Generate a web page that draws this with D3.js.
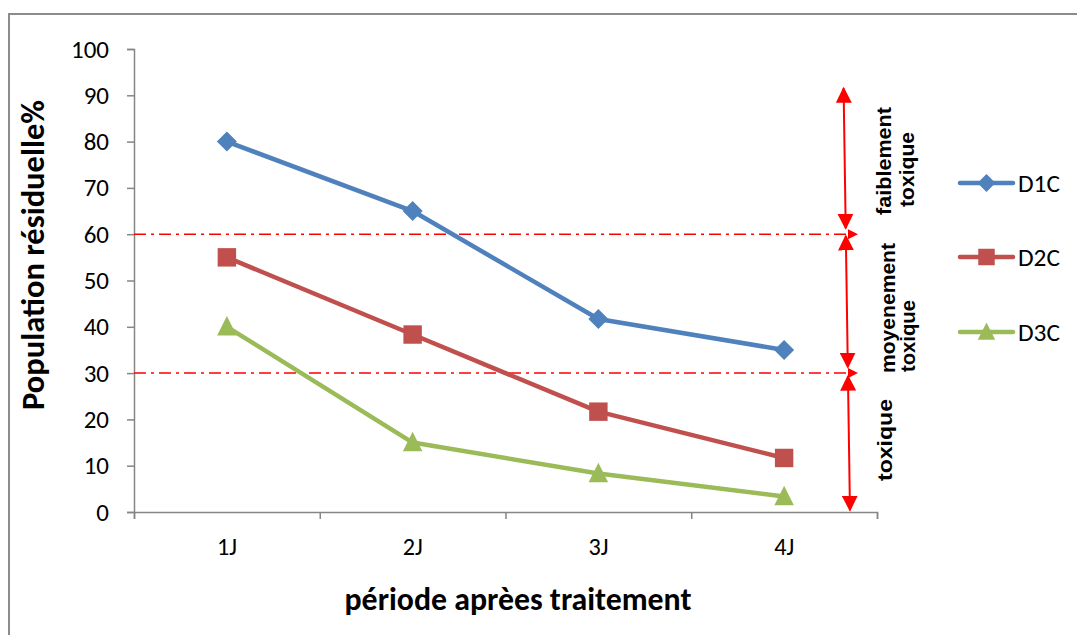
<!DOCTYPE html>
<html>
<head>
<meta charset="utf-8">
<script src="https://cdn.jsdelivr.net/npm/d3@7"></script>
<style>
  html, body { margin: 0; padding: 0; background: #fff; }
  svg { display: block; }
</style>
</head>
<body>
<svg id="chart" width="1077" height="635"></svg>
<script>
// Residual population after treatment, per dose
const periods = ["1J", "2J", "3J", "4J"];
const seriesNames = ["D1C", "D2C", "D3C"];
const d1c = [80, 65, 41.67, 35];
const d2c = [55, 38.33, 21.67, 11.67];
const d3c = [40, 15, 8.33, 3.33];
const yTicks = [0, 10, 20, 30, 40, 50, 60, 70, 80, 90, 100];
// toxicity thresholds and class bands (value ranges)
const thresholds = [60, 30];
const classBands = [[91.5, 61.3], [59.6, 31.3], [29.3, 0.4]];
const classLabels = [["faiblement", "toxique"], ["moyenement", "toxique"], ["toxique"]];

const colors = ["#4F81BD", "#C0504D", "#9BBB59"];
const uiFont = "Carlito, Calibri, Lato, 'Open Sans', sans-serif";
const boldFont = "Arial, 'Liberation Sans', Arimo, sans-serif";

// marker shapes
const diamond = { draw(ctx, size) { const r = Math.sqrt(size) / 2; ctx.moveTo(0, -r); ctx.lineTo(r, 0); ctx.lineTo(0, r); ctx.lineTo(-r, 0); ctx.closePath(); } };
const triangle = { draw(ctx, size) { const w = Math.sqrt(size); ctx.moveTo(0, -w * 0.55); ctx.lineTo(w / 2, w * 0.45); ctx.lineTo(-w / 2, w * 0.45); ctx.closePath(); } };
const square = { draw(ctx, size) { const h = Math.sqrt(size) / 2; ctx.rect(-h, -h, 2 * h, 2 * h); } };
const symbols = [diamond, square, triangle];
const symbolSizes = [400, 340, 380];

const svg = d3.select("#chart");
const L = 134, R = 877, T = 49, B = 512;

// scale a set of texts so that a sample text reaches a given width
function fitFont(sel, sampleNode, width) {
  const base = parseFloat(sampleNode.getAttribute("font-size"));
  const w = sampleNode.getComputedTextLength();
  if (w > 0) sel.attr("font-size", base * width / w);
}

// outer chart frame
svg.append("rect")
  .attr("x", 9).attr("y", 14).attr("width", 1100).attr("height", 700)
  .attr("fill", "#fff").attr("stroke", "#8c8c8c").attr("stroke-width", 2);

const x = d3.scaleBand().domain(periods).range([L, R]).padding(0);
const xEdge = d3.scaleLinear().domain([0, periods.length]).range([L, R]);
const y = d3.scaleLinear().domain([0, 100]).range([B, T]);

const axisColor = "#868686";

// y axis
const yAxis = svg.append("g")
  .attr("transform", `translate(${L},0)`)
  .call(d3.axisLeft(y).tickValues(yTicks).tickSize(7).tickPadding(18).tickFormat(d3.format("d")));
yAxis.select(".domain").attr("stroke", axisColor).attr("stroke-width", 1.5);
yAxis.selectAll(".tick line").attr("stroke", axisColor).attr("stroke-width", 1.5);
const yLabels = yAxis.selectAll(".tick text").attr("font-family", uiFont).attr("font-size", 21).attr("fill", "#000");
fitFont(yLabels, yLabels.filter(d => d === 100).node(), 38);

// x axis: ticks at category boundaries
const xTickAxis = svg.append("g")
  .attr("transform", `translate(0,${B})`)
  .call(d3.axisBottom(xEdge).tickValues(d3.range(periods.length + 1)).tickSize(7).tickFormat(""));
xTickAxis.select(".domain").attr("stroke", axisColor).attr("stroke-width", 1.5);
xTickAxis.selectAll(".tick line").attr("stroke", axisColor).attr("stroke-width", 1.5);

const xLabelAxis = svg.append("g")
  .attr("transform", `translate(0,${B})`)
  .call(d3.axisBottom(x).tickSize(0));
xLabelAxis.select(".domain").remove();
const xLabels = xLabelAxis.selectAll(".tick text")
  .attr("dy", null).attr("y", 43)
  .attr("font-family", uiFont).attr("font-size", 21).attr("fill", "#000");
fitFont(xLabels, xLabels.node(), 20);

// axis titles
const xTitle = svg.append("text")
  .attr("x", 518).attr("y", 610)
  .attr("text-anchor", "middle")
  .attr("font-family", uiFont).attr("font-weight", "bold").attr("font-size", 24)
  .text("période aprèes traitement");
fitFont(xTitle, xTitle.node(), 347);

const yTitle = svg.append("text")
  .attr("transform", "translate(44,255) rotate(-90)")
  .attr("text-anchor", "middle")
  .attr("font-family", uiFont).attr("font-weight", "bold").attr("font-size", 24)
  .text("Population résiduelle%");
fitFont(yTitle, yTitle.node(), 310);

// arrowheads
const defs = svg.append("defs");
defs.append("marker").attr("id", "head")
  .attr("viewBox", "0 0 10 10").attr("refX", 9).attr("refY", 5)
  .attr("markerUnits", "userSpaceOnUse")
  .attr("markerWidth", 16).attr("markerHeight", 16)
  .attr("orient", "auto-start-reverse")
  .append("path").attr("d", "M0,0 L10,5 L0,10 Z").attr("fill", "#FF0000");
defs.append("marker").attr("id", "smallHead")
  .attr("viewBox", "0 0 10 10").attr("refX", 9).attr("refY", 5)
  .attr("markerUnits", "userSpaceOnUse")
  .attr("markerWidth", 12).attr("markerHeight", 10)
  .attr("orient", "auto")
  .append("path").attr("d", "M0,0 L10,5 L0,10 Z").attr("fill", "#FF0000");

// threshold lines (dash-dot)
svg.selectAll(".threshold").data(thresholds).join("line")
  .attr("class", "threshold")
  .attr("x1", L).attr("x2", R - 20)
  .attr("y1", d => y(d)).attr("y2", d => y(d))
  .attr("stroke", "#FF0000").attr("stroke-width", 1.5)
  .attr("stroke-dasharray", "12,5,3,5")
  .attr("marker-end", "url(#smallHead)");

// toxicity class arrows, slightly slanted towards the bottom
const arrowX = v => R - 27 - v * 0.07;
svg.selectAll(".classArrow").data(classBands).join("line")
  .attr("class", "classArrow")
  .attr("x1", d => arrowX(d[0])).attr("y1", d => y(d[0]))
  .attr("x2", d => arrowX(d[1])).attr("y2", d => y(d[1]))
  .attr("stroke", "#FF0000").attr("stroke-width", 2)
  .attr("marker-start", "url(#head)").attr("marker-end", "url(#head)");

// class labels, rotated
const labelSpecs = [
  { lines: classLabels[0], xs: [891, 914], ys: [161, 169.5], lens: [108, 75] },
  { lines: classLabels[1], xs: [895, 915], ys: [308, 336], lens: [130, 72] },
  { lines: classLabels[2], xs: [892], ys: [440], lens: [82] }
];
labelSpecs.forEach(spec => {
  spec.lines.forEach((t, i) => {
    svg.append("text")
      .attr("transform", `translate(${spec.xs[i]},${spec.ys[i]}) rotate(-90)`)
      .attr("text-anchor", "middle")
      .attr("font-family", boldFont).attr("font-weight", "bold").attr("font-size", 20)
      .attr("textLength", spec.lens[i]).attr("lengthAdjust", "spacingAndGlyphs")
      .attr("fill", "#000")
      .text(t);
  });
});

// series
const allSeries = [d1c, d2c, d3c];
const line = d3.line().x((d, i) => x(periods[i]) + x.bandwidth() / 2).y(d => y(d));
allSeries.forEach((vals, s) => {
  svg.append("path").datum(vals)
    .attr("d", line).attr("fill", "none")
    .attr("stroke", colors[s]).attr("stroke-width", 4.5)
    .attr("stroke-linejoin", "round").attr("stroke-linecap", "round");
  svg.selectAll(".m" + s).data(vals).join("path")
    .attr("class", "m" + s)
    .attr("transform", (d, i) => `translate(${x(periods[i]) + x.bandwidth() / 2},${y(d)})`)
    .attr("d", d3.symbol().type(symbols[s]).size(symbolSizes[s]))
    .attr("fill", colors[s]);
});

// legend
const legendY = [183, 257, 332];
const legendTexts = [];
seriesNames.forEach((name, s) => {
  const g = svg.append("g").attr("transform", `translate(0,${legendY[s]})`);
  g.append("line").attr("x1", 960).attr("x2", 1013).attr("y1", 0).attr("y2", 0)
    .attr("stroke", colors[s]).attr("stroke-width", 4.5).attr("stroke-linecap", "round");
  g.append("path").attr("transform", "translate(986.5,0)")
    .attr("d", d3.symbol().type(symbols[s]).size(symbolSizes[s] * 0.8))
    .attr("fill", colors[s]);
  legendTexts.push(g.append("text").attr("x", 1018).attr("y", 9)
    .attr("font-family", uiFont).attr("font-size", 23).attr("fill", "#000")
    .text(name).node());
});
fitFont(d3.selectAll(legendTexts), legendTexts[0], 42);
</script>
</body>
</html>
